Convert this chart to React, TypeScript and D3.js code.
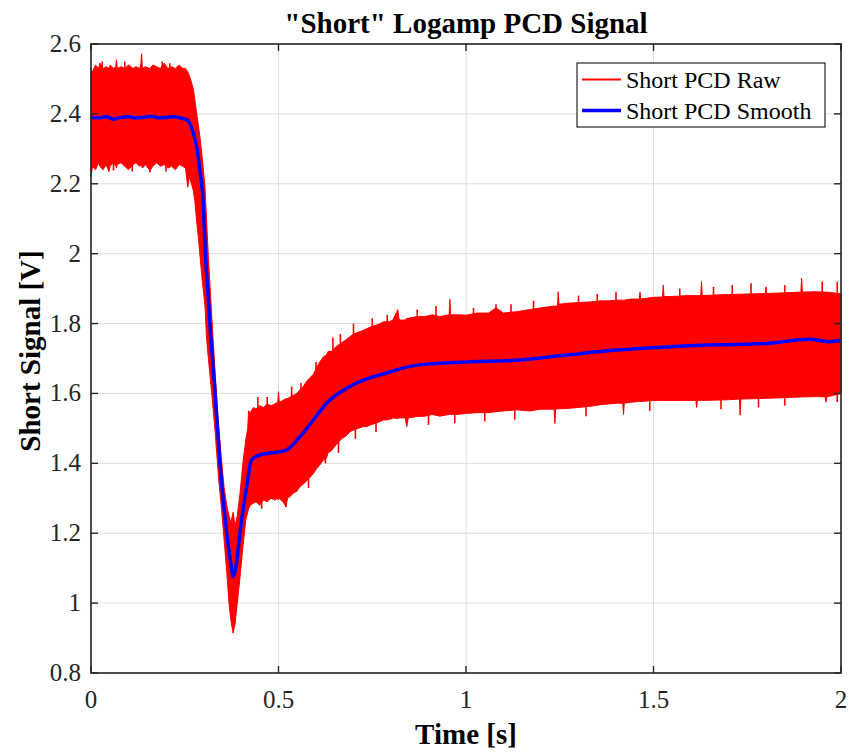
import React from "react";
import * as d3 from "d3";

// ---- Data ----
const xTickValues = [0, 0.5, 1, 1.5, 2];
const xTickLabels = ["0", "0.5", "1", "1.5", "2"];
const yTickValues = [0.8, 1, 1.2, 1.4, 1.6, 1.8, 2, 2.2, 2.4, 2.6];
const yTickLabels = ["0.8", "1", "1.2", "1.4", "1.6", "1.8", "2", "2.2", "2.4", "2.6"];

// Raw signal envelope (upper / lower extent of the noisy red trace)
const rawTime = [
  0.000, 0.004, 0.012, 0.020, 0.024, 0.032, 0.040, 0.048, 0.051, 0.060, 0.066, 0.068, 0.070, 0.080, 0.090,
  0.100, 0.112, 0.120, 0.130, 0.133, 0.135, 0.137, 0.145, 0.157, 0.165, 0.175, 0.185, 0.195, 0.205, 0.215,
  0.225, 0.235, 0.245, 0.252, 0.258, 0.262, 0.268, 0.273, 0.277, 0.282, 0.286, 0.291, 0.297, 0.304, 0.308,
  0.313, 0.322, 0.331, 0.340, 0.348, 0.355, 0.362, 0.368, 0.373, 0.379, 0.384, 0.390, 0.397, 0.405, 0.413,
  0.418, 0.420, 0.425, 0.433, 0.440, 0.450, 0.460, 0.470, 0.480, 0.490, 0.498, 0.500, 0.502, 0.512, 0.520,
  0.524, 0.531, 0.540, 0.549, 0.557, 0.566, 0.575, 0.584, 0.593, 0.602, 0.610, 0.620, 0.628, 0.632, 0.640,
  0.655, 0.668, 0.682, 0.691, 0.700, 0.712, 0.725, 0.735, 0.745, 0.760, 0.771, 0.780, 0.795, 0.805, 0.818,
  0.822, 0.838, 0.842, 0.846, 0.869, 0.890, 0.910, 0.930, 0.955, 0.957, 0.959, 0.980, 1.000, 1.030, 1.060,
  1.080, 1.100, 1.135, 1.170, 1.200, 1.235, 1.237, 1.239, 1.244, 1.246, 1.248, 1.269, 1.300, 1.330, 1.360,
  1.380, 1.402, 1.418, 1.420, 1.422, 1.440, 1.462, 1.464, 1.466, 1.500, 1.524, 1.526, 1.528, 1.560, 1.590,
  1.613, 1.615, 1.617, 1.626, 1.628, 1.630, 1.669, 1.700, 1.729, 1.731, 1.733, 1.770, 1.798, 1.800, 1.802,
  1.850, 1.893, 1.895, 1.897, 1.935, 1.958, 1.960, 1.962, 2.000,
];
const rawUpper = [
  2.53, 2.52, 2.54, 2.53, 2.545, 2.53, 2.535, 2.53, 2.54, 2.53, 2.535, 2.555, 2.53, 2.535, 2.53,
  2.54, 2.53, 2.535, 2.53, 2.545, 2.572, 2.53, 2.535, 2.53, 2.54, 2.535, 2.53, 2.545, 2.53, 2.535,
  2.53, 2.54, 2.53, 2.53, 2.52, 2.51, 2.49, 2.47, 2.44, 2.40, 2.37, 2.33, 2.27, 2.19, 2.10,
  1.99, 1.82, 1.66, 1.51, 1.41, 1.33, 1.28, 1.25, 1.23, 1.26, 1.22, 1.25, 1.31, 1.40, 1.47,
  1.50, 1.55, 1.545, 1.56, 1.555, 1.565, 1.56, 1.57, 1.565, 1.57, 1.575, 1.605, 1.575, 1.58, 1.585,
  1.585, 1.59, 1.595, 1.60, 1.61, 1.62, 1.635, 1.645, 1.655, 1.675, 1.69, 1.705, 1.71, 1.72, 1.72,
  1.735, 1.745, 1.755, 1.763, 1.77, 1.775, 1.78, 1.785, 1.79, 1.795, 1.80, 1.805, 1.805, 1.81, 1.84,
  1.81, 1.81, 1.815, 1.815, 1.82, 1.82, 1.825, 1.82, 1.825, 1.869, 1.825, 1.825, 1.824, 1.83, 1.83,
  1.845, 1.83, 1.834, 1.84, 1.845, 1.85, 1.85, 1.85, 1.85, 1.891, 1.855, 1.858, 1.86, 1.862, 1.865,
  1.865, 1.867, 1.867, 1.867, 1.867, 1.87, 1.87, 1.89, 1.87, 1.875, 1.876, 1.91, 1.877, 1.878, 1.88,
  1.88, 1.88, 1.88, 1.88, 1.92, 1.88, 1.882, 1.883, 1.884, 1.884, 1.884, 1.885, 1.886, 1.905, 1.886,
  1.888, 1.89, 1.93, 1.89, 1.891, 1.89, 1.89, 1.89, 1.885,
];
const rawLower = [
  2.22, 2.25, 2.24, 2.26, 2.25, 2.24, 2.255, 2.235, 2.25, 2.26, 2.25, 2.245, 2.255, 2.26, 2.25,
  2.24, 2.255, 2.26, 2.25, 2.255, 2.25, 2.245, 2.255, 2.238, 2.25, 2.26, 2.25, 2.255, 2.245, 2.25,
  2.24, 2.255, 2.25, 2.245, 2.19, 2.22, 2.20, 2.18, 2.15, 2.09, 2.05, 1.99, 1.92, 1.85, 1.76,
  1.70, 1.60, 1.49, 1.36, 1.27, 1.18, 1.09, 1.00, 0.95, 0.914, 0.94, 1.00, 1.07, 1.16, 1.24,
  1.26, 1.27, 1.28, 1.286, 1.29, 1.28, 1.295, 1.29, 1.30, 1.295, 1.30, 1.295, 1.30, 1.29, 1.275,
  1.30, 1.305, 1.315, 1.32, 1.333, 1.34, 1.35, 1.36, 1.371, 1.385, 1.395, 1.41, 1.415, 1.43, 1.435,
  1.455, 1.47, 1.48, 1.491, 1.495, 1.50, 1.505, 1.505, 1.51, 1.515, 1.52, 1.524, 1.525, 1.53, 1.528,
  1.53, 1.53, 1.505, 1.53, 1.534, 1.535, 1.54, 1.535, 1.54, 1.54, 1.54, 1.54, 1.543, 1.545, 1.545,
  1.548, 1.55, 1.553, 1.55, 1.555, 1.555, 1.514, 1.555, 1.556, 1.556, 1.556, 1.557, 1.56, 1.563, 1.568,
  1.57, 1.572, 1.572, 1.54, 1.572, 1.575, 1.577, 1.577, 1.577, 1.58, 1.58, 1.58, 1.58, 1.58, 1.58,
  1.58, 1.56, 1.58, 1.58, 1.58, 1.58, 1.581, 1.582, 1.584, 1.538, 1.584, 1.585, 1.586, 1.586, 1.586,
  1.588, 1.59, 1.59, 1.59, 1.591, 1.59, 1.575, 1.59, 1.60,
];

// Individual noise spikes beyond the envelope (time, extreme value)
const spikeTime = [
  0.03, 0.09, 0.19, 0.21, 0.11, 0.157, 0.2, 0.06,
  0.445, 0.47, 0.535, 0.56, 0.60, 0.645, 0.665, 0.70, 0.75, 0.79, 0.87, 0.92, 1.02, 1.08, 1.12, 1.18,
  1.30, 1.35, 1.40, 1.57, 1.66, 1.71, 1.76, 1.85, 1.95, 1.99,
  0.455, 0.52, 0.58, 0.625, 0.66, 0.705, 0.76, 0.90, 0.97, 1.05, 1.13, 1.32, 1.49, 1.68, 1.78, 1.85, 1.99,
];
const spikeValue = [
  2.55, 2.55, 2.55, 2.545, 2.235, 2.232, 2.235, 2.238,
  1.59, 1.59, 1.62, 1.63, 1.69, 1.76, 1.77, 1.80, 1.815, 1.825, 1.84, 1.85, 1.845, 1.855, 1.855, 1.865,
  1.88, 1.885, 1.89, 1.9, 1.905, 1.91, 1.915, 1.91, 1.92, 1.92,
  1.27, 1.275, 1.33, 1.40, 1.43, 1.47, 1.49, 1.51, 1.515, 1.52, 1.525, 1.535, 1.55, 1.555, 1.56, 1.565, 1.575,
];

// Smoothed signal (blue)
const smoothTime = [
  0.0, 0.02, 0.04, 0.06, 0.08, 0.1, 0.12, 0.14, 0.16, 0.18, 0.2, 0.22, 0.24, 0.256, 0.268, 0.282, 0.29,
  0.299, 0.305, 0.313, 0.317, 0.331, 0.344, 0.362, 0.372, 0.379, 0.386, 0.397, 0.415, 0.428, 0.451,
  0.48, 0.504, 0.522, 0.557, 0.593, 0.628, 0.682, 0.726, 0.771, 0.869, 1.0, 1.135, 1.269, 1.402,
  1.535, 1.669, 1.8, 1.917, 1.97, 2.0,
];
const smoothValue = [
  2.39, 2.388, 2.392, 2.385, 2.39, 2.392, 2.388, 2.39, 2.393, 2.389, 2.39, 2.392, 2.388, 2.383, 2.36, 2.305, 2.24,
  2.15, 2.0, 1.87, 1.8, 1.6, 1.4, 1.2, 1.12, 1.076, 1.1, 1.2, 1.333, 1.41, 1.424,
  1.43, 1.433, 1.438, 1.476, 1.524, 1.572, 1.615, 1.638, 1.653, 1.681, 1.69, 1.695, 1.71, 1.724,
  1.733, 1.739, 1.743, 1.755, 1.748, 1.752,
];

const seriesNames = ["Short PCD Raw", "Short PCD Smooth"];
const seriesColors = ["#ff0000", "#0000ff"];

const titleText = '"Short" Logamp PCD Signal';
const xLabelText = "Time [s]";
const yLabelText = "Short Signal [V]";

const FONT = "'Liberation Serif', 'Times New Roman', Times, serif";

export default function App() {
  const W = 849;
  const H = 752;
  const x = d3.scaleLinear().domain([0, 2]).range([91, 841]);
  const y = d3.scaleLinear().domain([0.8, 2.6]).range([673, 44]);
  const [x0, x1] = x.range();
  const [y0, y1] = y.range();

  const rawRows = rawTime.map((t, i) => ({ t, hi: rawUpper[i], lo: rawLower[i] }));
  const area = d3
    .area<{ t: number; hi: number; lo: number }>()
    .x((d) => x(d.t))
    .y0((d) => y(d.lo))
    .y1((d) => y(d.hi))
    .curve(d3.curveLinear);

  const midAt = (t: number) => {
    const i = Math.max(1, Math.min(rawTime.length - 1, d3.bisectLeft(rawTime, t)));
    const ta = rawTime[i - 1];
    const tb = rawTime[i];
    const f = tb === ta ? 0 : (t - ta) / (tb - ta);
    const ma = (rawUpper[i - 1] + rawLower[i - 1]) / 2;
    const mb = (rawUpper[i] + rawLower[i]) / 2;
    return ma + f * (mb - ma);
  };

  const smoothRows = smoothTime.map((t, i) => ({ t, v: smoothValue[i] }));
  const line = d3
    .line<{ t: number; v: number }>()
    .x((d) => x(d.t))
    .y((d) => y(d.v))
    .curve(d3.curveMonotoneX);

  const tickLen = 7;
  const axisColor = "#262626";
  const gridColor = "#dedede";

  const legX = 577;
  const legY = 63;
  const legW = 248;
  const legH = 64;

  return (
    <svg
      width={W}
      height={H}
      style={{ position: "absolute", left: 0, top: 0, background: "#fff", fontFamily: FONT }}
    >
      <rect x={0} y={0} width={W} height={H} fill="#fff" />
      {/* grid */}
      {xTickValues.map((v) => (
        <line key={"gx" + v} x1={x(v)} x2={x(v)} y1={y1} y2={y0} stroke={gridColor} strokeWidth={1} />
      ))}
      {yTickValues.map((v) => (
        <line key={"gy" + v} x1={x0} x2={x1} y1={y(v)} y2={y(v)} stroke={gridColor} strokeWidth={1} />
      ))}

      {/* raw signal envelope */}
      <path d={area(rawRows) || ""} fill={seriesColors[0]} stroke={seriesColors[0]} strokeWidth={1} />
      {spikeTime.map((t, i) => (
        <line
          key={"sp" + i}
          x1={x(t)}
          x2={x(t)}
          y1={y(midAt(t))}
          y2={y(spikeValue[i])}
          stroke={seriesColors[0]}
          strokeWidth={1.6}
        />
      ))}
      {/* smooth */}
      <path d={line(smoothRows) || ""} fill="none" stroke={seriesColors[1]} strokeWidth={3.5} strokeLinejoin="round" />

      {/* axes box */}
      <rect x={x0} y={y1} width={x1 - x0} height={y0 - y1} fill="none" stroke={axisColor} strokeWidth={1.6} />
      {xTickValues.map((v) => (
        <g key={"tx" + v}>
          <line x1={x(v)} x2={x(v)} y1={y0} y2={y0 - tickLen} stroke={axisColor} strokeWidth={1.4} />
          <line x1={x(v)} x2={x(v)} y1={y1} y2={y1 + tickLen} stroke={axisColor} strokeWidth={1.4} />
        </g>
      ))}
      {yTickValues.map((v) => (
        <g key={"ty" + v}>
          <line x1={x0} x2={x0 + tickLen} y1={y(v)} y2={y(v)} stroke={axisColor} strokeWidth={1.4} />
          <line x1={x1} x2={x1 - tickLen} y1={y(v)} y2={y(v)} stroke={axisColor} strokeWidth={1.4} />
        </g>
      ))}

      {/* tick labels */}
      {xTickValues.map((v, i) => (
        <text key={"lx" + v} x={x(v)} y={708} textAnchor="middle" fontSize={25} fontFamily={FONT} fill={axisColor}>
          {xTickLabels[i]}
        </text>
      ))}
      {yTickValues.map((v, i) => (
        <text key={"ly" + v} x={81} y={y(v) + 8} textAnchor="end" fontSize={25} fontFamily={FONT} fill={axisColor}>
          {yTickLabels[i]}
        </text>
      ))}

      {/* title and axis labels */}
      <text x={(x0 + x1) / 2} y={33} textAnchor="middle" fontSize={29} fontWeight="bold" fontFamily={FONT} fill="#000">
        {titleText}
      </text>
      <text x={(x0 + x1) / 2} y={744} textAnchor="middle" fontSize={29} fontWeight="bold" fontFamily={FONT} fill="#000">
        {xLabelText}
      </text>
      <text
        transform={`translate(40, 351) rotate(-90)`}
        textAnchor="middle"
        fontSize={29}
        fontWeight="bold"
        fontFamily={FONT}
        fill="#000"
      >
        {yLabelText}
      </text>

      {/* legend */}
      <rect x={legX} y={legY} width={legW} height={legH} fill="#fff" stroke={axisColor} strokeWidth={1.2} />
      {seriesNames.map((name, i) => {
        const cy = legY + 16.5 + i * 31;
        return (
          <g key={name}>
            <line
              x1={legX + 5}
              x2={legX + 44}
              y1={cy}
              y2={cy}
              stroke={seriesColors[i]}
              strokeWidth={i === 0 ? 2 : 3.5}
            />
            <text x={legX + 49} y={cy + 8} fontSize={24} fontFamily={FONT} fill="#000">
              {name}
            </text>
          </g>
        );
      })}
    </svg>
  );
}
